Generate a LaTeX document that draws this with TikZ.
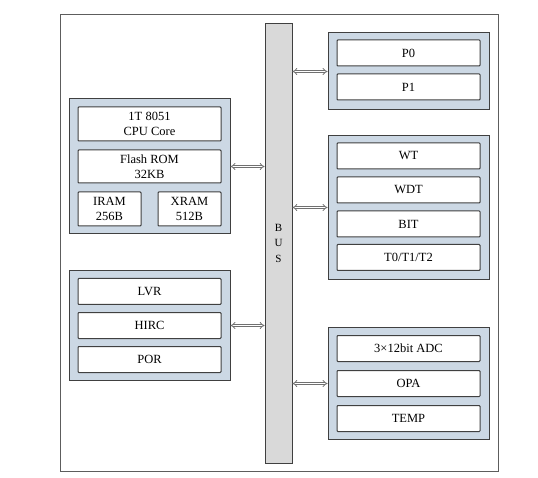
\documentclass[tikz,border=0pt]{standalone}
\usepackage{fontspec}
\setmainfont{Liberation Serif}
\usepackage{tikz}
\usetikzlibrary{arrows.meta}
\usetikzlibrary{positioning}

\definecolor{grpfill}{HTML}{CCD8E4}
\definecolor{busfill}{HTML}{D9D9D9}
\definecolor{edge}{HTML}{404040}

\tikzset{
	frame/.style={draw=edge!85, line width=0.8pt},
	group/.style={draw=edge, fill=grpfill, line width=1pt, inner sep=0pt},
	unit/.style={draw=edge, fill=white, line width=1pt, rounded corners=0.8pt, minimum width=143pt, minimum height=26pt, inner sep=0pt, align=center, font=\fontsize{12.5}{15}\selectfont},
	busarrow/.style={draw=edge!75, double=white, double distance=1.6pt, line width=0.8pt, {Implies}-{Implies}}
}

\begin{document}
\begin{tikzpicture}[x=1pt, y=-1pt]
	\useasboundingbox (0,0) rectangle (538,478);
	\draw [frame] (60,14) rectangle (498,471);

	\node (BUS) [draw=edge, fill=busfill, line width=0.8pt, minimum width=27pt, minimum height=440pt, inner sep=0pt, align=center, font=\fontsize{11}{15.5}\selectfont] at (278.5,243) {B\\U\\S};

	%CPU

	\node (CpuGrp) [group, minimum width=161pt, minimum height=135pt] at (149.5,166.5) { };

	\node (Cpu) [unit, minimum height=34pt] at (149.5,124) {1T 8051\\CPU Core};
	\node (Flash) [unit, minimum height=33pt] at (149.5,166.5) {Flash ROM\\32KB};
	\node (Iram) [unit, minimum width=63pt, minimum height=34pt] at (109.5,209) {IRAM\\256B};
	\node (Xram) [unit, minimum width=63pt, minimum height=34pt] at (189.5,209) {XRAM\\512B};

	\draw [busarrow] (BUS.west |- CpuGrp.east) -- (CpuGrp.east);

	%Power

	\node (PwrGrp) [group, minimum width=161pt, minimum height=109pt] at (149.5,325.5) { };

	\node (Lvr) [unit] at (149.5,291.5) {LVR};
	\node (Hirc) [unit, below of=Lvr, node distance=34pt] {HIRC};
	\node (Por) [unit, below of=Hirc, node distance=34pt] {POR};

	\draw [busarrow] (BUS.west |- PwrGrp.east) -- (PwrGrp.east);

	%Ports

	\node (PortGrp) [group, minimum width=161pt, minimum height=77pt] at (408.5,71.5) { };

	\node (P0) [unit] at (408.5,53) {P0};
	\node (P1) [unit, below of=P0, node distance=34pt] {P1};

	\draw [busarrow] (BUS.east |- PortGrp.west) -- (PortGrp.west);

	%Timers

	\node (TmrGrp) [group, minimum width=161pt, minimum height=144pt] at (408.5,207.5) { };

	\node (Wt) [unit] at (408.5,156) {WT};
	\node (Wdt) [unit, below of=Wt, node distance=34pt] {WDT};
	\node (Bit) [unit, below of=Wdt, node distance=34pt] {BIT};
	\node (Tmr) [unit, below of=Bit, node distance=33.5pt] {T0/T1/T2};

	\draw [busarrow] (BUS.east |- TmrGrp.west) -- (TmrGrp.west);

	%Analog

	\node (AnaGrp) [group, minimum width=161pt, minimum height=112pt] at (408.5,383.5) { };

	\node (Adc) [unit] at (408.5,348.5) {3×12bit ADC};
	\node (Opa) [unit, below of=Adc, node distance=35pt] {OPA};
	\node (Temp) [unit, below of=Opa, node distance=35pt] {TEMP};

	\draw [busarrow] (BUS.east |- AnaGrp.west) -- (AnaGrp.west);

\end{tikzpicture}
\end{document}
